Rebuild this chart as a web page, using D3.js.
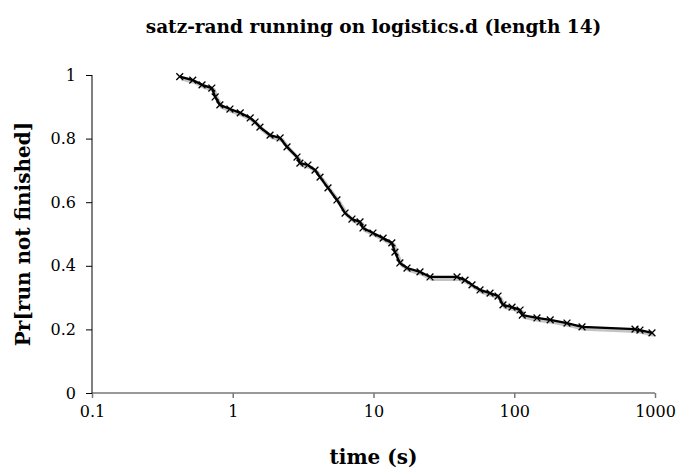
<!DOCTYPE html>
<html>
<head>
<meta charset="utf-8">
<script src="https://cdn.jsdelivr.net/npm/d3@7"></script>
<style>
  body { margin: 0; background: #fff; }
  text { font-family: "DejaVu Serif", serif; }
</style>
</head>
<body>
<div id="chart"></div>
<script>
// Chart values
var times = [0.42, 0.52, 0.605, 0.71, 0.75, 0.81, 0.955, 1.13, 1.33, 1.44,
             1.56, 1.84, 2.17, 2.43, 2.86, 3.0, 3.42, 3.84, 4.17, 4.75,
             5.5, 6.28, 7.03, 8.02, 8.42, 9.91, 11.7, 13.5, 14.2, 15.4,
             17.3, 21.4, 25.2, 39.2, 44.7, 50.1, 57.1, 67.3, 76.7, 83.2,
             96.4, 110, 114, 145, 180, 237, 303, 721, 782, 952];
var notFinished = [0.995, 0.984, 0.969, 0.959, 0.931, 0.906, 0.893, 0.881, 0.865, 0.852,
                   0.836, 0.811, 0.802, 0.774, 0.742, 0.723, 0.717, 0.701, 0.679, 0.645,
                   0.607, 0.566, 0.547, 0.538, 0.519, 0.503, 0.487, 0.472, 0.443, 0.409,
                   0.393, 0.381, 0.365, 0.365, 0.355, 0.340, 0.324, 0.314, 0.305, 0.277,
                   0.270, 0.261, 0.245, 0.236, 0.230, 0.220, 0.208, 0.201, 0.198, 0.189];
var xTicks = [0.1, 1, 10, 100, 1000];
var yTicks = [0, 0.2, 0.4, 0.6, 0.8, 1];

var svgWidth = 681;
var svgHeight = 470;
var margins = { top: 75, right: 26, bottom: 77, left: 92 };
var width = svgWidth - margins.left - margins.right;
var height = svgHeight - margins.top - margins.bottom;

var svg = d3.select("#chart")
            .append("svg")
            .attr("width", svgWidth)
            .attr("height", svgHeight);

var chartGroup = svg.append("g")
                    .attr("transform", `translate(${margins.left}, ${margins.top})`);

var data = times.map((t, i) => ({ t: t, p: notFinished[i] }));

var xLogScale = d3.scaleLog().domain([0.1, 1000]).range([0, width]);
var yLinearScale = d3.scaleLinear().domain([0, 1]).range([height, 0]);

// Axes
var bottomAxis = d3.axisBottom(xLogScale)
    .tickValues(xTicks)
    .tickSize(5)
    .tickPadding(8)
    .tickFormat(d => String(d));
var leftAxis = d3.axisLeft(yLinearScale)
    .tickValues(yTicks)
    .tickSize(6)
    .tickPadding(10)
    .tickFormat(d => String(d));

var xAxis = chartGroup.append("g")
    .attr("transform", `translate(0,${height})`)
    .call(bottomAxis);
xAxis.select(".domain").attr("stroke", "#777").attr("stroke-width", 1.5);
xAxis.selectAll(".tick line").attr("stroke", "#777").attr("stroke-width", 1.5);

var yAxis = chartGroup.append("g").call(leftAxis);
yAxis.select(".domain").attr("stroke", "#000");

[xAxis, yAxis].forEach(function(ax) {
    ax.select(".domain").attr("d", function() {
        return ax === xAxis ? `M0,0H${width}` : `M0,${height}V0`;
    });
    ax.selectAll(".tick text")
      .attr("font-family", "DejaVu Serif")
      .attr("font-size", 16)
      .attr("fill", "#000");
});

// Line with soft grey shadow
var line = d3.line()
    .x(d => xLogScale(d.t))
    .y(d => yLinearScale(d.p));

chartGroup.append("path")
    .datum(data)
    .attr("d", line)
    .attr("fill", "none")
    .attr("stroke", "#aaa")
    .attr("stroke-width", 4)
    .attr("stroke-opacity", 0.7)
    .attr("transform", "translate(2,2)");

chartGroup.append("path")
    .datum(data)
    .attr("d", line)
    .attr("fill", "none")
    .attr("stroke", "#000")
    .attr("stroke-width", 2.3);

// x markers
var cross = d3.symbol().type(d3.symbolX).size(32);
chartGroup.selectAll(".marker")
    .data(data)
    .enter()
    .append("path")
    .attr("class", "marker")
    .attr("d", cross)
    .attr("transform", d => `translate(${xLogScale(d.t)},${yLinearScale(d.p)})`)
    .attr("fill", "none")
    .attr("stroke", "#000")
    .attr("stroke-width", 1.3);

// Titles
svg.append("text")
    .attr("x", margins.left + width / 2)
    .attr("y", 33)
    .attr("text-anchor", "middle")
    .attr("font-weight", "bold")
    .attr("font-size", 18.5)
    .text("satz-rand running on logistics.d (length 14)");

svg.append("text")
    .attr("x", margins.left + width / 2)
    .attr("y", 464)
    .attr("text-anchor", "middle")
    .attr("font-weight", "bold")
    .attr("font-size", 20)
    .text("time (s)");

svg.append("text")
    .attr("transform", `translate(30, ${margins.top + height / 2}) rotate(-90)`)
    .attr("text-anchor", "middle")
    .attr("font-weight", "bold")
    .attr("font-size", 20)
    .text("Pr[run not finished]");
</script>
</body>
</html>
